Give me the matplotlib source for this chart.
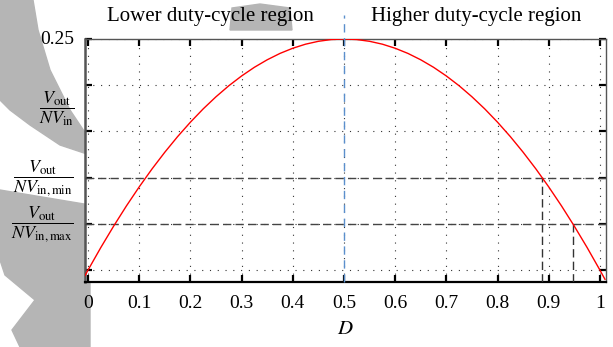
import matplotlib
matplotlib.use('Agg')
import matplotlib.pyplot as plt
from matplotlib.patches import Polygon

plt.rcParams['font.family'] = ['Liberation Serif', 'DejaVu Serif']
plt.rcParams['mathtext.fontset'] = 'stix'

# values
duty = [-0.01, 0.0, 0.025, 0.05, 0.075, 0.1, 0.125, 0.15, 0.175, 0.2, 0.225, 0.25,
        0.275, 0.3, 0.325, 0.35, 0.375, 0.4, 0.425, 0.45, 0.475, 0.5,
        0.525, 0.55, 0.575, 0.6, 0.625, 0.65, 0.675, 0.7, 0.725, 0.75,
        0.775, 0.8, 0.825, 0.85, 0.875, 0.9, 0.925, 0.95, 0.975, 1.0, 1.01]
gain = [-0.0101, 0.0, 0.0244, 0.0475, 0.0694, 0.09, 0.1094, 0.1275, 0.1444, 0.16, 0.1744, 0.1875,
        0.1994, 0.21, 0.2194, 0.2275, 0.2344, 0.24, 0.2444, 0.2475, 0.2494, 0.25,
        0.2494, 0.2475, 0.2444, 0.24, 0.2344, 0.2275, 0.2194, 0.21, 0.1994, 0.1875,
        0.1744, 0.16, 0.1444, 0.1275, 0.1094, 0.09, 0.0694, 0.0475, 0.0244, 0.0, -0.0101]

x_ticks = [0, 0.1, 0.2, 0.3, 0.4, 0.5, 0.6, 0.7, 0.8, 0.9, 1]
x_labels = ['0', '0.1', '0.2', '0.3', '0.4', '0.5', '0.6', '0.7', '0.8', '0.9', '1']
y_ticks = [0, 0.05, 0.1, 0.15, 0.2, 0.25]
y_labels = ['', r'$\dfrac{V_{\mathrm{out}}}{NV_{\mathrm{in,max}}}$',
            r'$\dfrac{V_{\mathrm{out}}}{NV_{\mathrm{in,min}}}$', '', '', '0.25']
nominal_level = 0.175
nominal_label = r'$\dfrac{V_{\mathrm{out}}}{NV_{\mathrm{in}}}$'
levels = [0.1, 0.05]           # Vout/NVin,min and Vout/NVin,max
crossings = [0.887, 0.947]     # D where the curve meets them
boundary = 0.5
regions = ['Lower duty-cycle region', 'Higher duty-cycle region']

W, H = 613, 347
fig = plt.figure(figsize=(W / 100, H / 100), dpi=100)

# grey watermark behind the chart
def px(pts):
    return [(x / W, 1 - y / H) for x, y in pts]

grey = '#b5b5b5'
for shape in [
        [(0, 0), (33, 0), (38, 30), (50, 70), (70, 110), (90, 140),
         (90, 155), (60, 145), (30, 125), (10, 110), (0, 100)],
        [(0, 190), (90, 205), (90, 347), (20, 347), (12, 330),
         (35, 300), (5, 275), (0, 260)],
        [(232, 8), (260, 4), (290, 8), (292, 30), (230, 30)]]:
    fig.patches.append(Polygon(px(shape), closed=True, transform=fig.transFigure,
                               color=grey, zorder=-5))

ax = fig.add_axes([85 / W, 1 - 282 / H, (606 - 85) / W, (282 - 39) / H])
ax.set_zorder(2)
ax.set_xlim(-0.006, 1.012)
ax.set_ylim(-0.013, 0.25)

ax.plot(duty, gain, color='red', lw=1.0, zorder=4)

for lev, d in zip(levels, crossings):
    ax.axhline(lev, color='#444444', lw=1.0, ls=(0, (6, 3)), zorder=3)
    ax.plot([d, d], [-0.013, lev], color='#333333', lw=1.0, ls=(0, (6, 3)), zorder=3)

ax.plot([boundary, boundary], [-0.013, 0.2755], color='#5b8fcc', lw=1.0,
        ls=(0, (6, 4)), clip_on=False, zorder=5)

ax.set_xticks(x_ticks)
ax.set_xticklabels(x_labels)
ax.set_yticks(y_ticks)
ax.set_yticklabels(y_labels)
ax.tick_params(direction='in', length=5, width=1.6, top=True, right=True,
               labelsize=14, pad=9, colors='black')
ax.tick_params(axis='y', labelsize=13, pad=8)
for lab in ax.get_yticklabels():
    lab.set_va('center')
ax.get_yticklabels()[-1].set_fontsize(14)
ax.grid(True, color='#333333', lw=0.8, ls=(0, (1, 6)))

ax.text(-0.02, nominal_level, nominal_label, transform=ax.get_yaxis_transform(),
        ha='right', va='center', fontsize=13)

for sp in ['left', 'top', 'right']:
    ax.spines[sp].set_color('#555555')
ax.spines['left'].set_linewidth(1.8)
ax.spines['bottom'].set_linewidth(1.6)
ax.spines['top'].set_linewidth(1.0)
ax.spines['right'].set_linewidth(1.0)

ax.set_xlabel('$D$', fontsize=15, labelpad=6)

fig.text(210 / W, 1 - 17 / H, regions[0], ha='center', va='center', fontsize=15)
fig.text(476 / W, 1 - 17 / H, regions[1], ha='center', va='center', fontsize=15)

fig.savefig('out.png', dpi=100)
